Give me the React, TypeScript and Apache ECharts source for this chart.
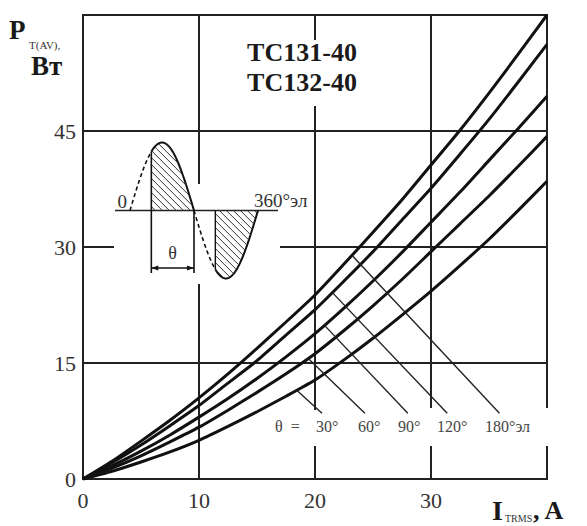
import React, { useEffect, useRef } from "react";
import * as echarts from "echarts";

// ---- data ----
const currents = [0, 2.5, 5, 7.5, 10, 12.5, 15, 17.5, 20, 22.5, 25, 27.5, 30, 32.5, 35, 37.5, 40];
const power180 = [0, 2.3, 4.9, 7.6, 10.5, 13.6, 16.9, 20.3, 23.8, 27.8, 31.9, 36.1, 40.6, 45.1, 49.9, 54.9, 60.0];
const power120 = [0, 2.1, 4.4, 6.9, 9.5, 12.4, 15.3, 18.6, 21.9, 25.6, 29.4, 33.5, 37.6, 42.0, 46.5, 51.3, 56.2];
const power90 = [0, 1.7, 3.6, 5.7, 8.0, 10.4, 13.0, 15.8, 18.8, 22.1, 25.6, 29.3, 33.2, 37.1, 41.2, 45.3, 49.5];
const power60 = [0, 1.4, 3.0, 4.8, 6.7, 8.9, 11.2, 13.6, 16.2, 19.2, 22.4, 25.8, 29.4, 33.0, 36.6, 40.4, 44.3];
const power30 = [0, 1.0, 2.2, 3.5, 5.0, 6.8, 8.7, 10.7, 12.8, 15.4, 18.2, 21.2, 24.3, 27.6, 31.0, 34.7, 38.5];
const curveNames = ["180°", "120°", "90°", "60°", "30°"];
const angleLabels = ["30°", "60°", "90°", "120°", "180°эл"];
// leader lines (data coords) from each curve down to its label, order 30..180
const leaderStart = [[18.4, 11.5], [19.4, 15.6], [20.8, 19.9], [21.5, 24.1], [23.2, 28.9]];
const leaderEnd = [[20.6, 8.5], [24.3, 8.5], [28.0, 8.5], [31.4, 8.5], [35.9, 8.5]];
const deviceNames = ["ТС131-40", "ТС132-40"];

const SERIF = '"Liberation Serif", "Times New Roman", serif';
const INK = "#111";

function txt(text: string, x: number, y: number, font: string, align = "left", vAlign = "middle", fill = "#222") {
  return {
    type: "text",
    z: 100,
    style: {
      text, x, y, font, fill,
      align, verticalAlign: vAlign,
      textAlign: align, textVerticalAlign: vAlign,
    },
  };
}

function buildInset() {
  const els: any[] = [];
  const x0 = 130, period = 128, y0 = 210.5, A = 68;
  const sx = (deg: number) => x0 + (deg / 360) * period;
  const sy = (deg: number) => y0 - A * Math.sin((deg * Math.PI) / 180);
  const pts = (a: number, b: number) => {
    const out: number[][] = [];
    for (let d = a; d <= b + 0.001; d += 2) out.push([sx(d), sy(d)]);
    return out;
  };
  els.push({ type: "line", z: 100, shape: { x1: 115, y1: y0, x2: 278, y2: y0 }, style: { stroke: "#222", lineWidth: 1.5 } });
  els.push({ type: "polyline", z: 100, shape: { points: pts(0, 60) }, style: { stroke: "#111", lineWidth: 1.6, lineDash: [4, 3], fill: null } });
  els.push({ type: "polyline", z: 100, shape: { points: pts(60, 180) }, style: { stroke: "#111", lineWidth: 2, fill: null } });
  els.push({ type: "polyline", z: 100, shape: { points: pts(180, 240) }, style: { stroke: "#111", lineWidth: 1.6, lineDash: [4, 3], fill: null } });
  els.push({ type: "polyline", z: 100, shape: { points: pts(240, 360) }, style: { stroke: "#111", lineWidth: 2, fill: null } });
  const hatch = (dA: number, dB: number, positive: boolean) => {
    const xa = sx(dA), xb = sx(dB);
    for (let k = xa - 80; k < xb + 80; k += 7) {
      let first: number[] | null = null, last: number[] | null = null;
      for (let x = xa; x <= xb; x += 0.25) {
        const y = y0 + (x - k);
        const deg = ((x - x0) / period) * 360;
        const cy = sy(deg);
        const inside = positive ? y >= cy && y <= y0 : y <= cy && y >= y0;
        if (inside) { if (!first) first = [x, y]; last = [x, y]; }
      }
      if (first && last && (last[0] - first[0]) > 0.8) {
        els.push({ type: "line", z: 100, shape: { x1: first[0], y1: first[1], x2: last[0], y2: last[1] }, style: { stroke: "#333", lineWidth: 1 } });
      }
    }
  };
  hatch(60, 180, true);
  hatch(240, 360, false);
  els.push({ type: "line", z: 100, shape: { x1: sx(60), y1: sy(60), x2: sx(60), y2: 273 }, style: { stroke: "#111", lineWidth: 1.6 } });
  els.push({ type: "line", z: 100, shape: { x1: sx(180), y1: y0, x2: sx(180), y2: 273 }, style: { stroke: "#111", lineWidth: 1.6 } });
  els.push({ type: "line", z: 100, shape: { x1: sx(240), y1: y0, x2: sx(240), y2: sy(240) }, style: { stroke: "#111", lineWidth: 1.4 } });
  const by = 268, bl = sx(60), br = sx(180);
  els.push({ type: "line", z: 100, shape: { x1: bl, y1: by, x2: br, y2: by }, style: { stroke: "#111", lineWidth: 1.4 } });
  els.push({ type: "polygon", z: 100, shape: { points: [[bl, by], [bl + 7, by - 2.6], [bl + 7, by + 2.6]] }, style: { fill: "#111" } });
  els.push({ type: "polygon", z: 100, shape: { points: [[br, by], [br - 7, by - 2.6], [br - 7, by + 2.6]] }, style: { fill: "#111" } });
  els.push(txt("θ", (bl + br) / 2, 253, `18px ${SERIF}`, "center", "middle", "#333"));
  els.push(txt("0", 127, 201, `19px ${SERIF}`, "right", "middle", "#333"));
  els.push(txt("360°эл", 254, 200, `19px ${SERIF}`, "left", "middle", "#333"));
  return els;
}

export default function App() {
  const ref = useRef<HTMLDivElement>(null);
  useEffect(() => {
    if (!ref.current) return;
    const chart = echarts.init(ref.current, undefined, { renderer: "svg" });
    const curves = [power180, power120, power90, power60, power30];
    const curveSeries = curves.map((vals, i) => ({
      name: curveNames[i],
      type: "line",
      data: currents.map((c, j) => [c, vals[j]]),
      smooth: 0.2,
      showSymbol: false,
      lineStyle: { color: INK, width: 3 },
      z: 3,
    }));
    const leaderSeries = leaderStart.map((s, i) => ({
      name: "leader " + angleLabels[i],
      type: "line",
      data: [s, leaderEnd[i]],
      showSymbol: false,
      lineStyle: { color: "#222", width: 1.4 },
      z: 4,
    }));
    const white = (x: number, y: number, w: number, h: number) => ({
      type: "rect", z: 1, shape: { x, y, width: w, height: h }, style: { fill: "#fff" },
    });
    const labelX = [316, 358, 398, 437, 485];
    const graphic: any[] = [
      white(114, 184, 166, 100),
      white(306, 40, 20, 66),
      white(306, 410, 20, 36),
      white(422, 408, 20, 38),
      white(543, 408, 8, 38),
      txt(deviceNames[0], 302, 52, `bold 26px ${SERIF}`, "center", "middle", "#1a1a1a"),
      txt(deviceNames[1], 302, 82, `bold 26px ${SERIF}`, "center", "middle", "#1a1a1a"),
      txt("P", 9, 30, `bold 27px ${SERIF}`, "left", "middle", "#1a1a1a"),
      txt("T(AV),", 29, 45, `11px ${SERIF}`, "left", "middle", "#333"),
      txt("Вт", 31, 66, `bold 27px ${SERIF}`, "left", "middle", "#1a1a1a"),
      txt("I", 492, 510, `bold 28px ${SERIF}`, "left", "middle", "#1a1a1a"),
      txt("TRMS", 505, 518, `10px ${SERIF}`, "left", "middle", "#333"),
      txt(", A", 533, 510, `bold 26px ${SERIF}`, "left", "middle", "#1a1a1a"),
      txt("θ  =", 275, 426, `16px ${SERIF}`, "left", "middle", "#444"),
      ...angleLabels.map((t, i) => txt(t, labelX[i], 426, `16px ${SERIF}`, "left", "middle", "#444")),
      ...buildInset(),
    ];
    chart.setOption({
      animation: false,
      backgroundColor: "#fff",
      grid: { left: 83, right: 40, top: 15, bottom: 47, show: true, borderColor: "#222", borderWidth: 2, backgroundColor: "transparent" },
      xAxis: {
        type: "value", min: 0, max: 40, interval: 10,
        axisLine: { show: true, lineStyle: { color: "#222", width: 2 } },
        axisTick: { show: false },
        axisLabel: { showMaxLabel: false, fontSize: 22, color: "#333", margin: 10, fontFamily: SERIF },
        splitLine: { show: true, lineStyle: { color: "#222", width: 2 } },
      },
      yAxis: {
        type: "value", min: 0, max: 60, interval: 15,
        axisLine: { show: true, lineStyle: { color: "#222", width: 2 } },
        axisTick: { show: false },
        axisLabel: { showMaxLabel: false, fontSize: 22, color: "#333", margin: 7, fontFamily: SERIF },
        splitLine: { show: true, lineStyle: { color: "#222", width: 2 } },
      },
      series: [...curveSeries, ...leaderSeries],
      graphic,
    });
    return () => chart.dispose();
  }, []);
  return <div ref={ref} style={{ position: "absolute", left: 0, top: 0, width: 587, height: 526 }} />;
}
